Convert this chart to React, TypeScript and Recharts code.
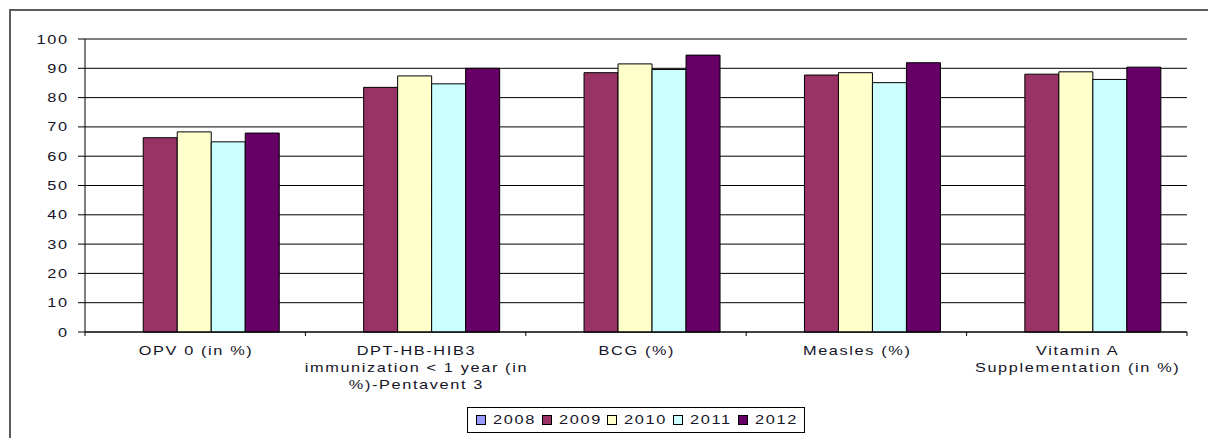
import React from 'react';
import { BarChart, Bar, XAxis, YAxis, CartesianGrid, Legend } from 'recharts';

const categories = [
  'OPV 0 (in %)',
  'DPT-HB-HIB3\nimmunization < 1 year (in\n%)-Pentavent 3',
  'BCG (%)',
  'Measles (%)',
  'Vitamin A\nSupplementation (in %)',
];
const years = ['2008', '2009', '2010', '2011', '2012'];
const v2008: (number | null)[] = [null, null, null, null, null];
const v2009 = [66.3, 83.5, 88.5, 87.7, 88.0];
const v2010 = [68.3, 87.4, 91.5, 88.5, 88.8];
const v2011 = [64.9, 84.7, 89.6, 85.1, 86.2];
const v2012 = [67.9, 90.0, 94.5, 91.9, 90.4];
const yTicks = [0, 10, 20, 30, 40, 50, 60, 70, 80, 90, 100];

const seriesValues = [v2008, v2009, v2010, v2011, v2012];
const seriesColors = ['#9999FF', '#993366', '#FFFFCC', '#CCFFFF', '#660066'];

const data = categories.map((name, i) => {
  const row: Record<string, any> = { name };
  years.forEach((y, k) => {
    row['y' + y] = seriesValues[k][i];
  });
  return row;
});

const FONT = '"Liberation Sans", Arial, sans-serif';
const FS = 12;
const LS = 1.2;
const SX = 1.36;
const TXT = '#141428';

const XTick = (props: any) => {
  const { x, y, payload, index, visibleTicksCount, width } = props;
  const half =
    payload && typeof payload.offset === 'number' && payload.offset > 0
      ? payload.offset
      : width / visibleTicksCount / 2;
  const lines = String(payload.value).split('\n');
  return (
    <g>
      <line x1={x - half} y1={y} x2={x - half} y2={y + 4} stroke="#000" />
      {index === visibleTicksCount - 1 && (
        <line x1={x + half} y1={y} x2={x + half} y2={y + 4} stroke="#000" />
      )}
      {lines.map((ln, i) => (
        <text
          key={i}
          transform={`translate(${x + (LS * SX) / 2},${y + 23 + i * 17}) scale(${SX},1)`}
          x={0}
          y={0}
          textAnchor="middle"
          fontFamily={FONT}
          fontSize={FS}
          letterSpacing={LS}
          fill={TXT}
        >
          {ln}
        </text>
      ))}
    </g>
  );
};

const YTick = (props: any) => {
  const { x, y, payload } = props;
  return (
    <text
      transform={`translate(${x + LS * SX},${y + 4.5}) scale(${SX},1)`}
      x={0}
      y={0}
      textAnchor="end"
      fontFamily={FONT}
      fontSize={FS}
      letterSpacing={LS}
      fill={TXT}
    >
      {payload.value}
    </text>
  );
};

const LegendContent = (props: any) => {
  const { payload } = props;
  return (
    <div
      style={{
        boxSizing: 'border-box',
        width: '100%',
        height: '100%',
        border: '1px solid #000',
        background: '#fff',
        display: 'flex',
        alignItems: 'center',
        paddingLeft: 8,
      }}
    >
      {(payload || []).map((p: any, i: number) => (
        <div
          key={i}
          style={{ display: 'flex', alignItems: 'center', width: 65.5, flex: 'none' }}
        >
          <div
            style={{
              boxSizing: 'border-box',
              width: 10,
              height: 10,
              border: '1px solid #000',
              background: p.color,
              marginRight: 7,
              flex: 'none',
            }}
          />
          <span
            style={{
              display: 'inline-block',
              fontFamily: FONT,
              fontSize: FS,
              letterSpacing: LS,
              color: TXT,
              lineHeight: '12px',
              transform: `scaleX(${SX})`,
              transformOrigin: 'left center',
              whiteSpace: 'nowrap',
            }}
          >
            {p.value}
          </span>
        </div>
      ))}
    </div>
  );
};

export default function App() {
  return (
    <div
      style={{
        position: 'absolute',
        left: 0,
        top: 0,
        width: 1208,
        height: 438,
        overflow: 'hidden',
        background: '#fff',
      }}
    >
      <div
        style={{
          position: 'absolute',
          left: 9,
          top: 9,
          width: 1400,
          height: 700,
          border: '2px solid #5c5c5c',
        }}
      />
      <div style={{ position: 'absolute', left: 0, top: 0 }}>
        <BarChart
          width={1208}
          height={438}
          data={data}
          margin={{ top: 39, right: 21, left: 0, bottom: 0 }}
          barCategoryGap="11%"
          barGap={0}
        >
          <CartesianGrid horizontal vertical={false} stroke="#000" strokeWidth={1} />
          <XAxis
            dataKey="name"
            interval={0}
            height={106}
            tickSize={0}
            tickMargin={0}
            tickLine={false}
            axisLine={{ stroke: '#000' }}
            tick={<XTick />}
          />
          <YAxis
            width={85}
            domain={[0, 100]}
            ticks={yTicks}
            interval={0}
            tickSize={7}
            tickMargin={11}
            tickLine={{ stroke: '#000' }}
            axisLine={{ stroke: '#000' }}
            tick={<YTick />}
          />
          <Legend
            layout="horizontal"
            verticalAlign="middle"
            align="center"
            content={<LegendContent />}
            wrapperStyle={{ position: 'absolute', left: 467, top: 407, width: 338, height: 26 }}
          />
          {years.map((y, k) => (
            <Bar
              key={y}
              dataKey={'y' + y}
              name={y}
              fill={seriesColors[k]}
              stroke="#000"
              strokeWidth={1}
              isAnimationActive={false}
            />
          ))}
        </BarChart>
      </div>
    </div>
  );
}
